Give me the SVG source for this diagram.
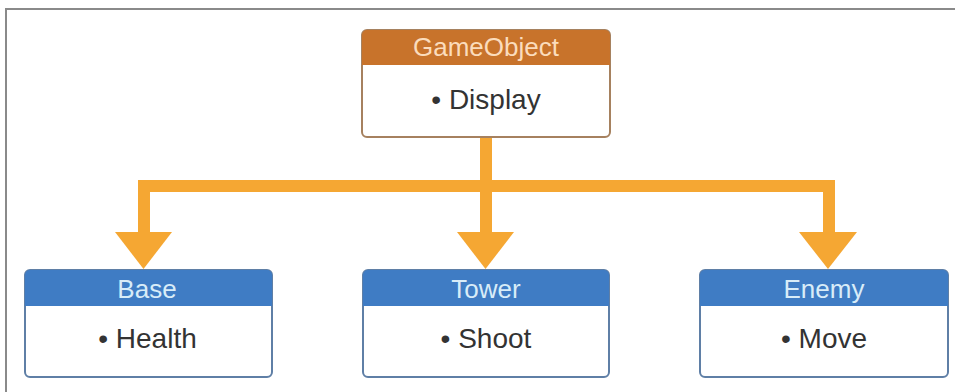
<svg xmlns="http://www.w3.org/2000/svg" width="955" height="392" viewBox="0 0 955 392">
<style>
.hdr{font-family:"Liberation Sans",Arial,sans-serif;font-size:26px;text-anchor:middle}
.body{font-family:"Liberation Sans",Arial,sans-serif;font-size:28px;text-anchor:middle;fill:#333}
.orange .frame{fill:#fff;stroke:#a6815f;stroke-width:2}
.orange .head{fill:#c8732b}
.orange text.hdr{fill:#fbdcbc}
.blue .frame{fill:#fff;stroke:#5f7fa6;stroke-width:2}
.blue .head{fill:#3f7cc4}
.blue text.hdr{fill:#d8ecf8}
.conn{fill:none;stroke:#f5a733;stroke-width:12}
.head-arrow{fill:#f5a733}
</style>
<rect x="0" y="0" width="955" height="392" fill="#fff"/>
<path d="M6 392 V9 H955" fill="none" stroke="#8a8a8a" stroke-width="2"/>
<g id="connectors">
<path class="conn" d="M486 137 V186"/>
<path class="conn" d="M144 234 V186 H829 V234"/>
<path class="conn" d="M486 186 V234"/>
<polygon class="head-arrow" points="115,232 172,232 143.5,269"/>
<polygon class="head-arrow" points="457,232 514,232 485.5,269"/>
<polygon class="head-arrow" points="799,232 857,232 828,269"/>
</g>
<g id="gameobject" class="orange">
<rect class="frame" x="362" y="30" width="248" height="107" rx="5"/>
<path class="head" d="M367 30 H605 A5 5 0 0 1 610 35 V65 H362 V35 A5 5 0 0 1 367 30 Z"/>
<text class="hdr" x="486" y="56">GameObject</text>
<text class="body" x="486" y="109">• Display</text>
</g>
<g id="base" class="blue">
<rect class="frame" x="25" y="270" width="247" height="107" rx="5"/>
<path class="head" d="M30 270 H267 A5 5 0 0 1 272 275 V306 H25 V275 A5 5 0 0 1 30 270 Z"/>
<text class="hdr" x="147" y="298">Base</text>
<text class="body" x="147.5" y="348">• Health</text>
</g>
<g id="tower" class="blue">
<rect class="frame" x="363" y="270" width="246" height="107" rx="5"/>
<path class="head" d="M368 270 H604 A5 5 0 0 1 609 275 V306 H363 V275 A5 5 0 0 1 368 270 Z"/>
<text class="hdr" x="486" y="298">Tower</text>
<text class="body" x="486" y="348">• Shoot</text>
</g>
<g id="enemy" class="blue">
<rect class="frame" x="700" y="270" width="248" height="107" rx="5"/>
<path class="head" d="M705 270 H943 A5 5 0 0 1 948 275 V306 H700 V275 A5 5 0 0 1 705 270 Z"/>
<text class="hdr" x="824" y="298">Enemy</text>
<text class="body" x="824" y="348">• Move</text>
</g>
</svg>
